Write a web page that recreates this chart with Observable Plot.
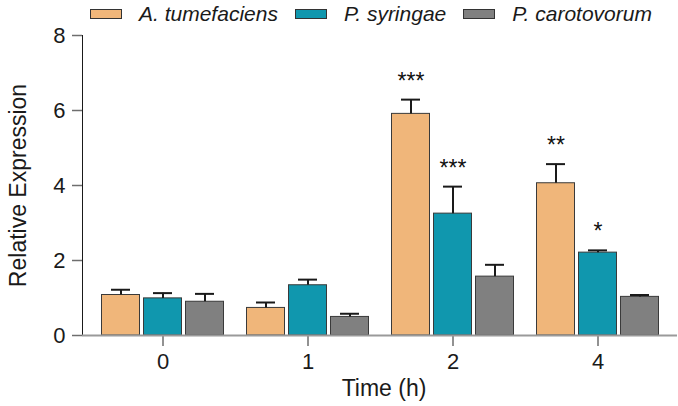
<!DOCTYPE html>
<html>
<head>
<meta charset="utf-8">
<script src="https://cdn.jsdelivr.net/npm/d3@7"></script>
<script src="https://cdn.jsdelivr.net/npm/@observablehq/plot@0.6"></script>
<style>
  html, body { margin: 0; padding: 0; background: #fff; }
  body { width: 678px; height: 406px; overflow: hidden; font-family: "Liberation Sans", Arial, sans-serif; }
  #legend { height: 28px; display: flex; align-items: center; padding-left: 90px; box-sizing: border-box; }
  .item { display: flex; align-items: center; margin-right: 17px; }
  .sw { width: 32px; height: 10px; border: 1px solid #333; box-sizing: border-box; margin-right: 17px; }
  .lab { font-style: italic; font-size: 21px; color: #1a1a1a; }
  #chart svg { overflow: visible; display: block; }
</style>
</head>
<body>
<div id="legend"></div>
<div id="chart"></div>
<script>
// ---- data ----
const times = ["0", "1", "2", "4"];
const seriesNames = ["A. tumefaciens", "P. syringae", "P. carotovorum"];
const seriesColors = ["#F0B67A", "#1097AE", "#808080"];

const meanTumefaciens = [1.08, 0.735, 5.91, 4.06];
const sdTumefaciens   = [0.14, 0.145, 0.38, 0.51];
const sigTumefaciens  = ["", "", "***", "**"];

const meanSyringae = [0.99, 1.34, 3.25, 2.21];
const sdSyringae   = [0.14, 0.15, 0.72, 0.06];
const sigSyringae  = ["", "", "***", "*"];

const meanCarotovorum = [0.90, 0.495, 1.57, 1.03];
const sdCarotovorum   = [0.21, 0.085, 0.315, 0.05];
const sigCarotovorum  = ["", "", "", ""];

const yTicks = [0, 2, 4, 6, 8];

// ---- build tables ----
const seriesData = [
  [meanTumefaciens, sdTumefaciens, sigTumefaciens],
  [meanSyringae, sdSyringae, sigSyringae],
  [meanCarotovorum, sdCarotovorum, sigCarotovorum]
].map(([m, s, g], si) => times.map((t, i) => ({
  time: t, series: seriesNames[si], mean: m[i], sd: s[i], top: m[i] + s[i], sig: g[i]
})));

// legend
const legend = document.getElementById("legend");
seriesNames.forEach((n, i) => {
  const it = document.createElement("div"); it.className = "item";
  const sw = document.createElement("div"); sw.className = "sw"; sw.style.background = seriesColors[i];
  const lb = document.createElement("span"); lb.className = "lab"; lb.textContent = n;
  it.appendChild(sw); it.appendChild(lb); legend.appendChild(it);
});

const offsets = [-42, 0, 42];
const barInset = 53.5, capInset = 63;

const marks = [];
seriesData.forEach((data, si) => {
  const dx = offsets[si];
  marks.push(Plot.barY(data, {x: "time", y: "mean", dx, insetLeft: barInset, insetRight: barInset,
    fill: seriesColors[si], stroke: "#3a3a3a", strokeWidth: 1}));
  marks.push(Plot.ruleX(data, {x: "time", y1: "mean", y2: "top", dx, stroke: "#1a1a1a", strokeWidth: 2}));
  marks.push(Plot.tickY(data, {x: "time", y: "top", dx, insetLeft: capInset, insetRight: capInset, stroke: "#1a1a1a", strokeWidth: 2}));
  marks.push(Plot.text(data, {x: "time", y: "top", dx, dy: -11, text: "sig", lineAnchor: "bottom",
    fontSize: 23, fill: "#111"}));
});
marks.push(Plot.ruleY([0], {stroke: "#9a9a9a", strokeWidth: 2}));
marks.push(Plot.text(["Time (h)"], {frameAnchor: "bottom", dx: 4, dy: 60, fontSize: 23, fill: "#1a1a1a"}));
marks.push(Plot.text(["Relative Expression"], {frameAnchor: "left", textAnchor: "middle", rotate: -90, dx: -64, fontSize: 23, fill: "#1a1a1a"}));

const svg = Plot.plot({
  width: 678,
  height: 378,
  marginLeft: 82,
  marginRight: 1,
  marginTop: 7,
  marginBottom: 71,
  style: {fontFamily: "'Liberation Sans', Arial, sans-serif", fontSize: "22px", color: "#1a1a1a", background: "#fff", overflow: "visible"},
  x: {domain: times, paddingInner: 0, paddingOuter: 0.047, tickSize: 11, tickPadding: 7, label: null},
  y: {domain: [0, 8], ticks: yTicks, tickSize: 10, tickPadding: 7, line: true, label: null},
  marks
});
document.getElementById("chart").appendChild(svg);

// axis tick/line colours
svg.querySelectorAll('[aria-label*="axis"] path, [aria-label*="axis"] line').forEach(el => {
  el.style.stroke = "#6e6e6e";
  el.style.strokeWidth = "1.5";
});
</script>
</body>
</html>
